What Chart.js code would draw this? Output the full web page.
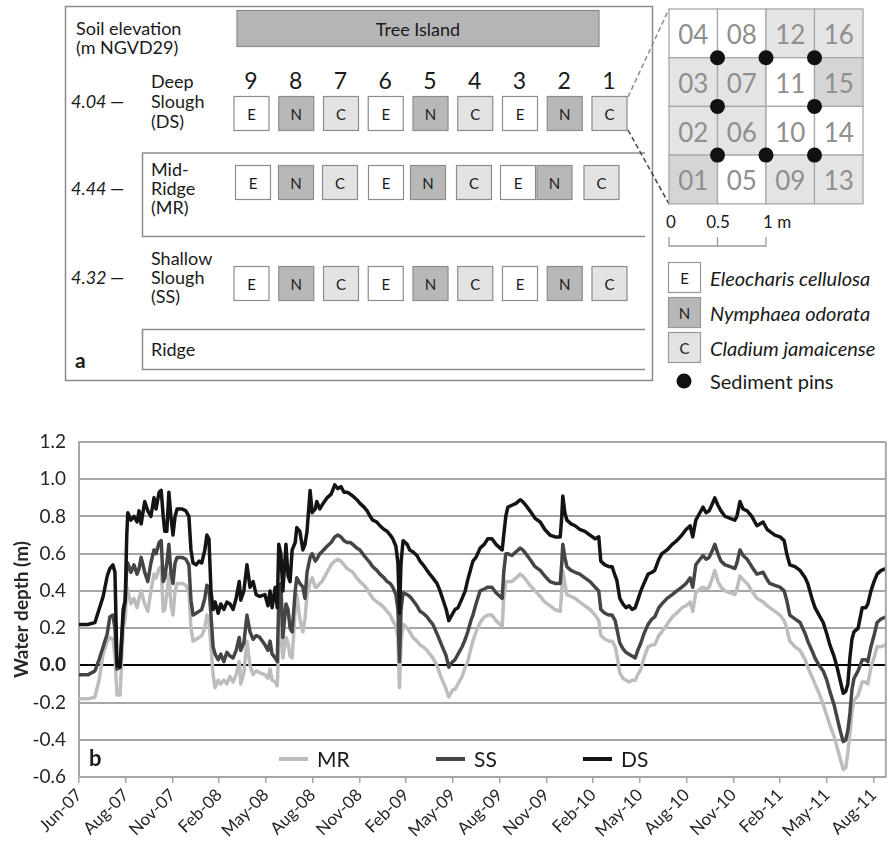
<!DOCTYPE html>
<html>
<head>
<meta charset="utf-8">
<script src="https://cdn.jsdelivr.net/npm/chart.js@4.4.0/dist/chart.umd.min.js"></script>
<style>
html, body { margin: 0; padding: 0; background: #fff; }
#wrap { position: relative; width: 890px; height: 847px; font-family: Lato, sans-serif; }
#diagram { position: absolute; left: 0; top: 0; }
#depth { position: absolute; left: 0; top: 400px; }
</style>
</head>
<body>
<div id="wrap">
  <svg id="diagram" width="890" height="400"></svg>
  <canvas id="depth" width="890" height="447"></canvas>
</div>
<script>
// ---- panel a: site layout ----
var plotNumbers = [9, 8, 7, 6, 5, 4, 3, 2, 1];
var plotSpecies = ['E', 'N', 'C', 'E', 'N', 'C', 'E', 'N', 'C'];
var habitatNames = [['Deep', 'Slough', '(DS)'], ['Mid-', 'Ridge', '(MR)'], ['Shallow', 'Slough', '(SS)']];
var soilElevation = ['4.04', '4.44', '4.32'];
var subplotIds = [['04', '08', '12', '16'], ['03', '07', '11', '15'], ['02', '06', '10', '14'], ['01', '05', '09', '13']];
var subplotShade = [['w', 'w', 'l', 'l'], ['l', 'l', 'w', 'd'], ['l', 'l', 'w', 'w'], ['d', 'w', 'l', 'l']];
var sedimentPins = [[1, 1], [2, 1], [3, 1], [1, 2], [3, 2], [1, 3], [2, 3], [3, 3]];
var speciesNames = { E: 'Eleocharis cellulosa', N: 'Nymphaea odorata', C: 'Cladium jamaicense' };

// ---- panel b: water depth (m), x = days since 1 Jun 2007 ----
var tickLabels = ['Jun-07', 'Aug-07', 'Nov-07', 'Feb-08', 'May-08', 'Aug-08', 'Nov-08', 'Feb-09', 'May-09',
    'Aug-09', 'Nov-09', 'Feb-10', 'May-10', 'Aug-10', 'Nov-10', 'Feb-11', 'May-11', 'Aug-11'];
var days = [0,18,31,39,47,55,60,66,70,74,80,86,90,93,95,101,107,113,117,121,128,134,140,146,150,156,160,164,167,171,
    175,179,183,187,191,201,208,214,218,222,228,234,239,245,249,253,257,261,265,271,276,282,288,294,300,306,312,315,321,327,
    333,339,345,352,362,368,372,376,382,386,389,393,397,403,407,411,415,421,424,430,436,440,444,450,454,460,463,469,473,483,
    491,498,504,510,516,522,528,533,541,547,555,561,567,572,580,586,594,600,606,611,617,621,624,627,631,639,644,650,658,664,
    670,678,683,689,697,703,709,715,720,724,728,732,738,746,752,757,763,767,773,781,789,796,804,812,820,824,827,831,835,843,
    851,859,864,870,878,888,898,907,917,927,937,940,942,946,950,958,966,975,985,995,1005,1012,1016,1024,1032,1038,1044,1047,1053,1059,
    1065,1071,1077,1083,1088,1094,1100,1108,1116,1121,1129,1135,1145,1155,1164,1174,1182,1190,1195,1201,1209,1215,1221,1227,1232,1238,
    1244,1250,1258,1268,1277,1281,1287,1293,1301,1310,1320,1332,1340,1345,1355,1365,1373,1378,1384,1394,1404,1414,1419,1427,1433,1441,
    1449,1456,1462,1470,1476,1482,1488,1493,1497,1501,1505,1509,1517,1525,1532,1536,1542,1548,1554,1562,1571];
var depthDS = [0.22,0.22,0.23,0.30,0.37,0.48,0.52,0.54,0.50,0.00,-0.01,0.30,0.35,0.70,0.82,0.78,0.80,0.77,0.83,0.76,
    0.88,0.83,0.80,0.90,0.84,0.93,0.94,0.80,0.72,0.72,0.93,0.80,0.70,0.80,0.84,0.84,0.83,0.80,0.62,0.55,
    0.54,0.56,0.55,0.62,0.70,0.68,0.40,0.30,0.34,0.28,0.33,0.30,0.34,0.33,0.30,0.36,0.45,0.35,0.40,0.54,
    0.42,0.45,0.38,0.37,0.38,0.32,0.40,0.31,0.42,0.31,0.65,0.60,0.40,0.65,0.48,0.45,0.62,0.66,0.74,0.72,
    0.62,0.65,0.72,0.94,0.82,0.84,0.88,0.84,0.86,0.90,0.92,0.97,0.95,0.96,0.93,0.93,0.92,0.91,0.89,0.87,
    0.85,0.83,0.80,0.78,0.77,0.75,0.73,0.72,0.70,0.68,0.64,0.55,0.28,0.55,0.67,0.65,0.62,0.61,0.59,0.56,
    0.54,0.51,0.49,0.47,0.44,0.40,0.35,0.30,0.24,0.26,0.28,0.30,0.31,0.36,0.40,0.46,0.52,0.56,0.58,0.63,
    0.65,0.68,0.68,0.65,0.63,0.62,0.70,0.80,0.85,0.86,0.87,0.89,0.88,0.86,0.83,0.79,0.77,0.73,0.70,0.69,
    0.69,0.80,0.91,0.82,0.78,0.76,0.75,0.73,0.72,0.70,0.68,0.69,0.56,0.54,0.53,0.53,0.48,0.46,0.36,0.33,
    0.31,0.32,0.30,0.31,0.35,0.40,0.44,0.49,0.50,0.51,0.57,0.60,0.62,0.65,0.67,0.70,0.73,0.75,0.69,0.78,
    0.82,0.85,0.82,0.83,0.86,0.90,0.86,0.83,0.80,0.79,0.78,0.80,0.88,0.84,0.83,0.80,0.75,0.77,0.73,0.72,
    0.70,0.69,0.67,0.60,0.54,0.53,0.51,0.47,0.44,0.36,0.31,0.27,0.23,0.17,0.11,0.05,-0.01,-0.08,-0.15,-0.14,
    -0.10,0.04,0.14,0.18,0.20,0.31,0.31,0.33,0.40,0.45,0.49,0.51,0.52];
var depthSS = [-0.05,-0.05,-0.03,0.03,0.10,0.17,0.26,0.27,0.20,-0.02,-0.01,0.26,0.35,0.53,0.55,0.50,0.54,0.49,0.52,0.58,
    0.50,0.45,0.55,0.62,0.60,0.66,0.67,0.45,0.47,0.55,0.65,0.50,0.44,0.55,0.58,0.58,0.57,0.54,0.35,0.27,
    0.28,0.29,0.30,0.36,0.43,0.42,0.27,0.10,0.06,0.03,0.06,0.02,0.07,0.05,0.04,0.08,0.15,0.08,0.12,0.27,
    0.18,0.14,0.16,0.15,0.11,0.08,0.13,0.06,0.04,0.02,0.35,0.44,0.15,0.33,0.30,0.20,0.18,0.40,0.47,0.44,
    0.42,0.36,0.50,0.58,0.60,0.56,0.57,0.60,0.61,0.64,0.66,0.69,0.70,0.69,0.67,0.66,0.66,0.65,0.63,0.62,
    0.59,0.57,0.55,0.53,0.51,0.49,0.47,0.45,0.44,0.42,0.38,0.30,0.02,0.30,0.39,0.38,0.37,0.35,0.32,0.29,
    0.28,0.26,0.24,0.22,0.17,0.13,0.09,0.05,-0.01,0.01,0.02,0.03,0.06,0.10,0.14,0.18,0.24,0.27,0.33,0.40,
    0.41,0.42,0.42,0.39,0.37,0.36,0.50,0.60,0.60,0.59,0.61,0.63,0.62,0.60,0.57,0.53,0.51,0.48,0.45,0.44,
    0.44,0.55,0.65,0.58,0.53,0.51,0.50,0.49,0.47,0.45,0.42,0.40,0.30,0.28,0.27,0.27,0.24,0.20,0.12,0.09,
    0.07,0.06,0.05,0.04,0.08,0.12,0.17,0.22,0.25,0.26,0.31,0.33,0.36,0.38,0.40,0.42,0.44,0.47,0.42,0.54,
    0.57,0.59,0.57,0.58,0.61,0.65,0.60,0.56,0.54,0.53,0.52,0.55,0.62,0.59,0.57,0.53,0.49,0.50,0.46,0.44,
    0.43,0.42,0.40,0.35,0.27,0.25,0.23,0.17,0.13,0.08,0.04,0.00,-0.03,-0.08,-0.14,-0.21,-0.28,-0.35,-0.41,-0.40,
    -0.35,-0.26,-0.13,-0.07,-0.03,0.03,0.03,0.02,0.10,0.16,0.23,0.25,0.26];
var depthMR = [-0.18,-0.18,-0.17,-0.08,0.06,0.13,0.15,0.14,0.05,-0.16,-0.16,0.20,0.25,0.42,0.40,0.33,0.36,0.31,0.36,0.40,
    0.33,0.29,0.40,0.49,0.47,0.52,0.53,0.29,0.30,0.38,0.49,0.33,0.27,0.40,0.44,0.44,0.43,0.40,0.20,0.13,
    0.14,0.15,0.16,0.20,0.27,0.25,0.10,-0.05,-0.12,-0.08,-0.10,-0.08,-0.10,-0.06,-0.09,-0.05,0.02,-0.10,-0.04,0.13,
    0.00,-0.05,-0.03,-0.04,-0.05,-0.07,-0.02,-0.08,-0.09,-0.11,0.10,0.27,0.04,0.15,0.12,0.05,0.04,0.30,0.38,0.25,
    0.18,0.25,0.38,0.45,0.47,0.42,0.42,0.44,0.45,0.50,0.54,0.56,0.57,0.56,0.54,0.52,0.51,0.50,0.47,0.45,
    0.43,0.41,0.38,0.36,0.34,0.33,0.31,0.29,0.27,0.24,0.21,0.15,-0.12,0.12,0.22,0.20,0.18,0.15,0.13,0.11,
    0.10,0.08,0.06,0.04,0.00,-0.05,-0.09,-0.13,-0.17,-0.15,-0.13,-0.13,-0.10,-0.06,-0.01,0.02,0.09,0.13,0.18,0.23,
    0.26,0.27,0.27,0.24,0.22,0.21,0.36,0.45,0.45,0.45,0.47,0.49,0.48,0.46,0.43,0.40,0.37,0.34,0.32,0.30,
    0.29,0.40,0.51,0.44,0.38,0.37,0.36,0.34,0.32,0.30,0.27,0.24,0.16,0.14,0.13,0.13,0.10,0.06,-0.04,-0.07,
    -0.08,-0.09,-0.08,-0.08,-0.05,-0.02,0.04,0.10,0.11,0.11,0.16,0.18,0.22,0.26,0.28,0.31,0.32,0.34,0.29,0.39,
    0.41,0.42,0.41,0.42,0.46,0.51,0.45,0.42,0.40,0.39,0.38,0.41,0.48,0.46,0.44,0.40,0.36,0.34,0.32,0.31,
    0.29,0.27,0.24,0.20,0.13,0.10,0.08,0.03,-0.01,-0.06,-0.10,-0.15,-0.21,-0.27,-0.32,-0.38,-0.44,-0.50,-0.56,-0.55,
    -0.47,-0.37,-0.25,-0.19,-0.16,-0.09,-0.09,-0.10,-0.01,0.04,0.10,0.10,0.11];

// ---------------- draw panel a ----------------
var svgNS = 'http://www.w3.org/2000/svg';
var svg = document.getElementById('diagram');

function el(tag, attrs, text) {
    var node = document.createElementNS(svgNS, tag);
    for (var k in attrs) node.setAttribute(k, attrs[k]);
    if (text !== undefined) node.textContent = text;
    svg.appendChild(node);
    return node;
}
function label(x, y, text, size, extra) {
    var a = { x: x, y: y, 'font-size': size, fill: '#1a1a1a', 'font-family': 'Lato, sans-serif', 'dominant-baseline': 'central' };
    for (var k in extra) a[k] = extra[k];
    return el('text', a, text);
}

var fills = { E: '#ffffff', N: '#b8b8b8', C: '#e3e3e3' };
var shades = { w: '#ffffff', l: '#e4e4e4', d: '#d5d5d5' };

// outer frame and habitat bands
el('rect', { x: 65.5, y: 6.5, width: 587, height: 374, fill: 'none', stroke: '#8c8c8c', 'stroke-width': 1.5 });
el('rect', { x: 237, y: 10.5, width: 362, height: 36, fill: '#b5b5b5', stroke: '#8a8a8a', 'stroke-width': 1.2 });
label(418, 29, 'Tree Island', 18, { 'text-anchor': 'middle' });
label(76, 28, 'Soil elevation', 18);
label(76, 47, '(m NGVD29)', 18);

el('path', { d: 'M645 153 H142.5 V236.5 H645', fill: 'none', stroke: '#8c8c8c', 'stroke-width': 1.5 });
el('path', { d: 'M645 329.5 H142.5 V369.5 H645', fill: 'none', stroke: '#8c8c8c', 'stroke-width': 1.5 });
label(151, 349, 'Ridge', 18);
label(75, 359, 'a', 21, { 'font-weight': 'bold' });

var rowBoxTop = [96, 165, 266];
var rowTextY = [[81, 101, 121], [169, 188, 207], [258, 277, 296]];
var stdX = plotNumbers.map(function (n, i) { return 233.5 + i * 44.75; });
var mrX = [235, 278, 322, 368, 410, 456, 500, 536.5, 583.5];

plotNumbers.forEach(function (n, i) {
    label(stdX[i] + 17.5, 80, String(n), 23, { 'text-anchor': 'middle' });
});

habitatNames.forEach(function (lines, r) {
    lines.forEach(function (t, j) { label(151, rowTextY[r][j], t, 18); });
    label(71, rowTextY[r][1], soilElevation[r], 18, { 'font-style': 'italic' });
    label(110, rowTextY[r][1], '\u2014', 18);
    var xs = r === 1 ? mrX : stdX;
    plotSpecies.forEach(function (s, i) {
        el('rect', { x: xs[i] + 0.5, y: rowBoxTop[r] + 0.5, width: 35, height: 34, fill: fills[s], stroke: '#8c8c8c', 'stroke-width': 1.2 });
        label(xs[i] + 18, rowBoxTop[r] + 18, s, 15, { 'text-anchor': 'middle' });
    });
});

// zoom lines from plot 1 to the subplot grid
el('line', { x1: 628, y1: 97, x2: 669, y2: 9, stroke: '#8a8a8a', 'stroke-width': 1.5, 'stroke-dasharray': '5,3' });
el('line', { x1: 628, y1: 130, x2: 669, y2: 204, stroke: '#444', 'stroke-width': 1.5, 'stroke-dasharray': '5,3' });

// subplot grid
var gx = 669, gy = 9, cw = 48.5, ch = 48.7;
subplotIds.forEach(function (row, r) {
    row.forEach(function (id, c) {
        el('rect', { x: gx + c * cw, y: gy + r * ch, width: cw, height: ch, fill: shades[subplotShade[r][c]], stroke: '#a8a8a8', 'stroke-width': 1.3 });
        label(gx + c * cw + cw / 2, gy + r * ch + ch / 2 + 1, id, 26, { 'text-anchor': 'middle', fill: '#8f8f8f' });
    });
});
sedimentPins.forEach(function (p) {
    el('circle', { cx: gx + p[0] * cw, cy: gy + p[1] * ch, r: 7.5, fill: '#111' });
});

// scale bar
label(671, 221, '0', 17, { 'text-anchor': 'middle' });
label(718, 221, '0.5', 17, { 'text-anchor': 'middle' });
label(763, 221, '1 m', 17);
el('path', { d: 'M669 237 V246 H766 V237 M717.5 237 V246', fill: 'none', stroke: '#999', 'stroke-width': 1.3 });

// species legend
['E', 'N', 'C'].forEach(function (s, i) {
    var y = 262 + i * 35;
    el('rect', { x: 668.5, y: y + 0.5, width: 32, height: 30, fill: fills[s], stroke: '#999', 'stroke-width': 1.2 });
    label(684.5, y + 15.5, s, 15, { 'text-anchor': 'middle' });
    label(710, y + 15.5, speciesNames[s], 20, { 'font-style': 'italic' });
});
el('circle', { cx: 684, cy: 381, r: 7.5, fill: '#111' });
label(710, 381, 'Sediment pins', 20);

// ---------------- panel b chart ----------------
function series(values) {
    return values.map(function (v, i) { return { x: days[i], y: v }; });
}

var panelDecor = {
    id: 'panelDecor',
    afterDatasetsDraw: function (chart) {
        var ctx = chart.ctx, a = chart.chartArea;
        ctx.save();
        ctx.strokeStyle = '#a6a6a6';
        ctx.lineWidth = 2;
        ctx.beginPath();
        ctx.moveTo(a.right, a.top);
        ctx.lineTo(a.right, a.bottom);
        ctx.stroke();

        var y = a.bottom - 18;
        var starts = [279, 436, 583];
        ctx.font = '21px Lato, sans-serif';
        ctx.textBaseline = 'middle';
        chart.data.datasets.forEach(function (ds, i) {
            ctx.strokeStyle = ds.borderColor;
            ctx.lineWidth = 4;
            ctx.beginPath();
            ctx.moveTo(starts[i], y);
            ctx.lineTo(starts[i] + 29, y);
            ctx.stroke();
            ctx.fillStyle = '#1a1a1a';
            ctx.fillText(ds.label, starts[i] + 38, y + 1);
        });
        ctx.font = 'bold 22px Lato, sans-serif';
        ctx.fillText('b', 89, y);
        ctx.restore();
    }
};

var isZero = function (v) { return Math.abs(v) < 1e-9; };

new Chart(document.getElementById('depth'), {
    type: 'line',
    data: {
        datasets: [
            { label: 'MR', data: series(depthMR), borderColor: '#bdbdbd', order: 3 },
            { label: 'SS', data: series(depthSS), borderColor: '#454545', order: 2 },
            { label: 'DS', data: series(depthDS), borderColor: '#141414', order: 1 }
        ]
    },
    options: {
        responsive: false,
        animation: false,
        layout: { padding: { top: 42, right: 4, left: 0, bottom: 0 } },
        elements: {
            point: { radius: 0 },
            line: { borderWidth: 3.5, tension: 0, borderJoinStyle: 'round' }
        },
        plugins: { legend: { display: false }, tooltip: { enabled: false } },
        scales: {
            x: {
                type: 'linear',
                min: 0,
                max: 1571,
                afterBuildTicks: function (scale) {
                    scale.ticks = tickLabels.map(function (l, i) { return { value: i * 91 }; });
                },
                afterFit: function (scale) { scale.height = 70; },
                border: { color: '#a6a6a6', width: 2 },
                grid: { drawOnChartArea: false, drawTicks: true, tickLength: 6, color: '#a6a6a6', lineWidth: 1.5 },
                ticks: {
                    autoSkip: false,
                    maxRotation: 45,
                    minRotation: 45,
                    padding: 2,
                    color: '#262626',
                    font: { family: 'Lato, sans-serif', size: 17 },
                    callback: function (v, i) { return tickLabels[i]; }
                }
            },
            y: {
                min: -0.6,
                max: 1.2,
                afterFit: function (scale) { scale.width = 79; },
                border: { color: '#a6a6a6', width: 2 },
                grid: {
                    drawTicks: false,
                    color: function (c) { return isZero(c.tick.value) ? '#000' : '#a6a6a6'; },
                    lineWidth: 2
                },
                title: {
                    display: true,
                    text: 'Water depth (m)',
                    color: '#262626',
                    font: { family: 'Lato, sans-serif', size: 19, weight: 'bold' },
                    padding: { top: 10, bottom: 0 }
                },
                ticks: {
                    stepSize: 0.2,
                    padding: 13,
                    color: '#262626',
                    font: function (c) {
                        return { family: 'Lato, sans-serif', size: 19, weight: c.tick && isZero(c.tick.value) ? 'bold' : 'normal' };
                    },
                    callback: function (v) { return v.toFixed(1); }
                }
            }
        }
    },
    plugins: [panelDecor]
});
</script>
</body>
</html>
